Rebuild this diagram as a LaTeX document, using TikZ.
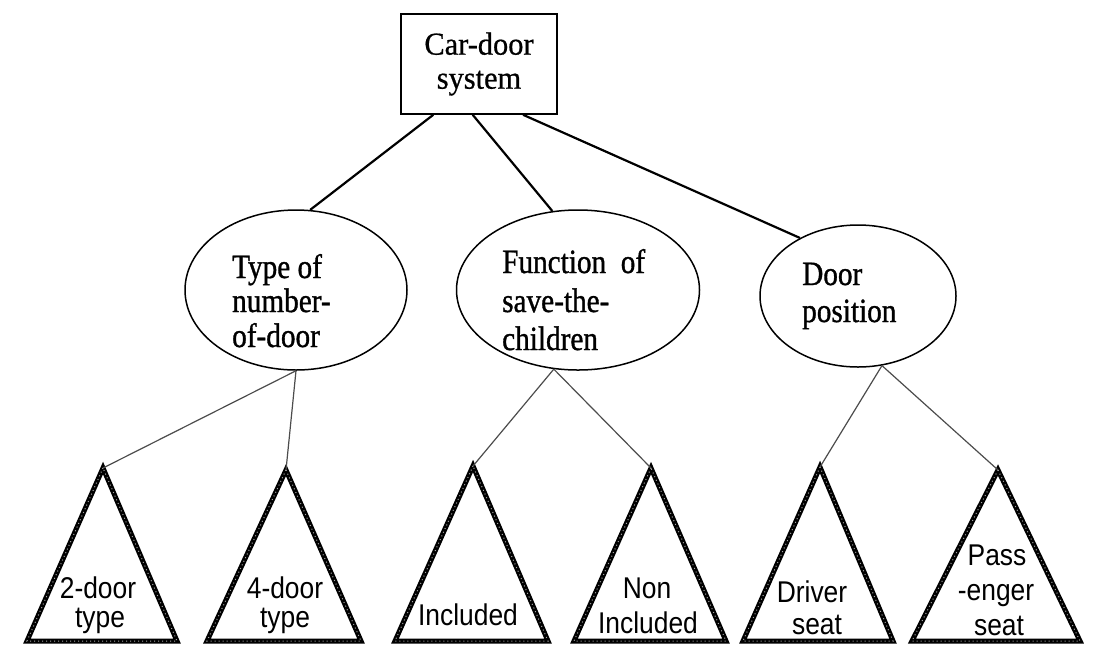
\documentclass[tikz,border=0pt]{standalone}
\usepackage{fontspec}
\setmainfont{Liberation Serif}
\newfontfamily\gsans[FakeStretch=0.88]{Liberation Sans}
\newfontfamily\ellfont[FakeStretch=0.86,FakeBold=1]{Liberation Serif}
\newfontfamily\boxfont[FakeStretch=0.95,FakeBold=0.6]{Liberation Serif}
\usetikzlibrary{shapes.geometric,calc}
\begin{document}
\begin{tikzpicture}[x=1pt,y=-1pt,
  boxnode/.style={draw, line width=1.6pt, minimum width=156pt, minimum height=100pt, inner sep=0pt, align=center, font=\boxfont\fontsize{32}{34}\selectfont},
  ell/.style={draw, ellipse, line width=1.5pt, inner sep=0pt},
  etext/.style={anchor=base west, inner sep=0pt, font=\ellfont\fontsize{34}{38}\selectfont},
  ttext/.style={anchor=base, inner sep=0pt, font=\gsans\fontsize{30}{34}\selectfont},
  tri/.style={draw=black, line width=5pt, line join=miter},
  tridot/.style={draw=gray!70, line width=1pt, dash pattern=on 1pt off 3pt},
  topline/.style={line width=2.2pt},
  lowline/.style={line width=1.2pt, draw=black!70}]
\useasboundingbox (0,0) rectangle (1099,649);

% root
\node[boxnode] (box) at (479,64) {Car-door\\system};

% ellipses
\node[ell, minimum width=222pt, minimum height=160pt] (e1) at (296,290) {};
\node[ell, minimum width=243pt, minimum height=160pt] (e2) at (578,290) {};
\node[ell, minimum width=196pt, minimum height=142pt] (e3) at (858,296) {};

\node[etext] (e1a) at (232,278) {Type of};
\node[etext] (e1b) at (232,312) {number-};
\node[etext] (e1c) at (232,347) {of-door};
\node[etext] (e2a) at (502,273) {Function\ \ of};
\node[etext] (e2b) at (502,312) {save-the-};
\node[etext] (e2c) at (502,350) {children};
\node[etext] (e3a) at (802,285) {Door};
\node[etext] (e3b) at (802,322) {position};

% triangles
\coordinate (t1) at (103,468);
\coordinate (t2) at (286,470);
\coordinate (t3) at (473,466);
\coordinate (t4) at (651,468);
\coordinate (t5) at (820,467);
\coordinate (t6) at (998,470);

\draw[tri] (t1) -- (27,641) -- (177,641) -- cycle;
\draw[tri] (t2) -- (207,641) -- (361,641) -- cycle;
\draw[tri] (t3) -- (395,641) -- (548,641) -- cycle;
\draw[tri] (t4) -- (574,641) -- (726,641) -- cycle;
\draw[tri] (t5) -- (743,641) -- (893,641) -- cycle;
\draw[tri] (t6) -- (912,641) -- (1080,641) -- cycle;
\draw[tridot] (t1) -- (27,641) -- (177,641) -- cycle;
\draw[tridot] (t2) -- (207,641) -- (361,641) -- cycle;
\draw[tridot] (t3) -- (395,641) -- (548,641) -- cycle;
\draw[tridot] (t4) -- (574,641) -- (726,641) -- cycle;
\draw[tridot] (t5) -- (743,641) -- (893,641) -- cycle;
\draw[tridot] (t6) -- (912,641) -- (1080,641) -- cycle;

\node[ttext] (l1a) at (98,598) {2-door};
\node[ttext] (l1b) at (100,627) {type};
\node[ttext] (l2a) at (285,598) {4-door};
\node[ttext] (l2b) at (285,627) {type};
\node[ttext] (l3a) at (468,625) {Included};
\node[ttext] (l4a) at (647,598) {Non};
\node[ttext] (l4b) at (648,633) {Included};
\node[ttext] (l5a) at (812,602) {Driver};
\node[ttext] (l5b) at (817,634) {seat};
\node[ttext] (l6a) at (997,565) {Pass};
\node[ttext] (l6b) at (996,600) {-enger};
\node[ttext] (l6c) at (999,635) {seat};

% connectors
\draw[topline] ($(box.south west)!0.21!(box.south east)$) -- (e1.80);
\draw[topline] ($(box.south west)!0.46!(box.south east)$) -- (e2.108);
\draw[topline] ($(box.south west)!0.78!(box.south east)$) -- (e3.135);

\draw[lowline] (e1.south) -- (t1);
\draw[lowline] (e1.south) -- (t2);
\draw[lowline] (e2.253) -- (t3);
\draw[lowline] (e2.253) -- (t4);
\draw[lowline] (e3.289) -- (t5);
\draw[lowline] (e3.289) -- (t6);
\end{tikzpicture}
\end{document}
